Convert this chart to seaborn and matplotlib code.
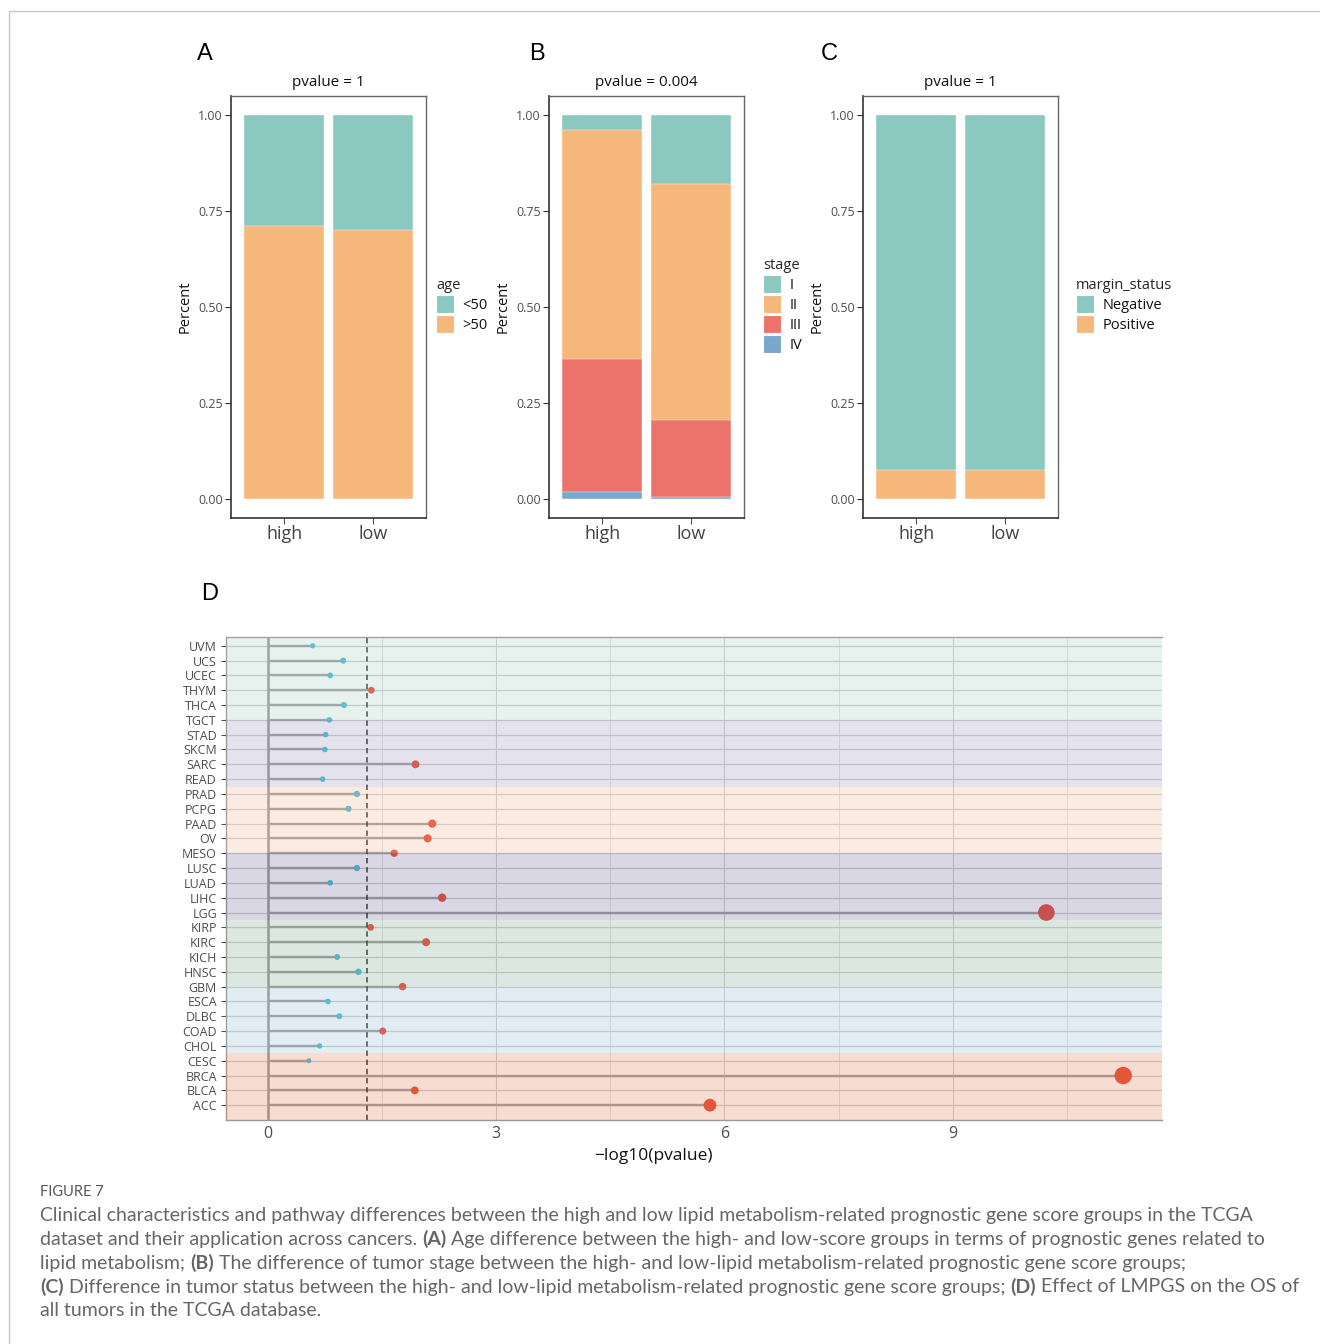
import numpy as np
import pandas as pd
import matplotlib
matplotlib.use("Agg")
import matplotlib.pyplot as plt
from matplotlib.patches import Patch
from matplotlib.lines import Line2D
import seaborn as sns

# ---------------- data ----------------
groups = ["high", "low"]

age_levels = ["<50", ">50"]
age_high = [0.289, 0.711]
age_low = [0.300, 0.700]

stage_levels = ["I", "II", "III", "IV"]
stage_high = [0.038, 0.597, 0.347, 0.018]
stage_low = [0.180, 0.614, 0.202, 0.004]

margin_levels = ["Negative", "Positive"]
margin_high = [0.924, 0.076]
margin_low = [0.924, 0.076]

pvalue_titles = ["pvalue = 1", "pvalue = 0.004", "pvalue = 1"]

cancers = ["ACC", "BLCA", "BRCA", "CESC", "CHOL", "COAD", "DLBC", "ESCA",
           "GBM", "HNSC", "KICH", "KIRC", "KIRP", "LGG", "LIHC", "LUAD",
           "LUSC", "MESO", "OV", "PAAD", "PCPG", "PRAD", "READ", "SARC",
           "SKCM", "STAD", "TGCT", "THCA", "THYM", "UCEC", "UCS", "UVM"]
neglog_p = [5.81, 1.93, 11.24, 0.54, 0.68, 1.51, 0.94, 0.79,
            1.77, 1.19, 0.91, 2.08, 1.35, 10.23, 2.29, 0.82,
            1.17, 1.66, 2.10, 2.16, 1.06, 1.17, 0.72, 1.94,
            0.75, 0.76, 0.81, 1.00, 1.36, 0.82, 0.99, 0.59]

caption_title = "FIGURE 7"
caption_lines = [
    [("Clinical characteristics and pathway differences between the high and low lipid metabolism-related prognostic gene score groups in the TCGA", False)],
    [("dataset and their application across cancers.", False), ("(A)", True),
     ("Age difference between the high- and low-score groups in terms of prognostic genes related to", False)],
    [("lipid metabolism;", False), ("(B)", True),
     ("The difference of tumor stage between the high- and low-lipid metabolism-related prognostic gene score groups;", False)],
    [("(C)", True), ("Difference in tumor status between the high- and low-lipid metabolism-related prognostic gene score groups;", False),
     ("(D)", True), ("Effect of LMPGS on the OS of", False)],
    [("all tumors in the TCGA database.", False)],
]

# ---------------- style ----------------
sns.set_style("white")
plt.rcParams["font.family"] = ["Open Sans", "DejaVu Sans"]
plt.rcParams["axes.unicode_minus"] = True

W, H = 1320, 1344
fig = plt.figure(figsize=(W / 100, H / 100), dpi=100)


def fx(px):
    return px / W


def fy(py):
    return 1 - py / H


def px_axes(left, top, right, bottom):
    return fig.add_axes([fx(left), fy(bottom), (right - left) / W, (bottom - top) / H])


teal, orange, red, blue = "#8AC8C0", "#F5B87A", "#EC736B", "#7AA7CC"
dark = "#333333"


def stacked_panel(ax, levels, high, low, colors, title, legend_title, leg_x, leg_y):
    df = pd.DataFrame({"group": np.repeat(groups, len(levels)),
                       "level": levels * 2,
                       "prop": list(high) + list(low)})
    # cumulative heights from the bottom level up; draw tallest first
    order_bottom_up = levels[::-1]
    for i, lev in enumerate(levels):
        below = order_bottom_up[: order_bottom_up.index(lev) + 1]
        cum = (df[df["level"].isin(below)].groupby("group", sort=False)["prop"].sum()
               .reindex(groups).reset_index())
        sns.barplot(data=cum, x="group", y="prop", order=groups, color=colors[i],
                    width=0.9, saturation=1, edgecolor="white", linewidth=0.3,
                    ax=ax, zorder=2 + i)
    ax.set_xlim(-0.6, 1.6)
    ax.set_ylim(-0.05, 1.05)
    ax.set_yticks([0, 0.25, 0.5, 0.75, 1.0])
    ax.set_yticklabels(["0.00", "0.25", "0.50", "0.75", "1.00"], fontsize=9, color="#4d4d4d")
    ax.tick_params(axis="x", labelsize=13, colors="#4d4d4d", length=4, width=0.8,
                   direction="out", bottom=True, pad=1)
    ax.tick_params(axis="y", length=4, width=0.8, direction="out", left=True, color=dark, pad=2)
    for lbl in ax.get_xticklabels():
        lbl.set_color("#444444")
    ax.set_xlabel("")
    ax.set_ylabel("Percent", fontsize=10.5, color="#111111", labelpad=4)
    ax.set_title(title, fontsize=11, color="#111111", pad=7)
    for side in ["left", "bottom"]:
        ax.spines[side].set_color(dark)
        ax.spines[side].set_linewidth(1.2)
    for side in ["top", "right"]:
        ax.spines[side].set_color("#666666")
        ax.spines[side].set_linewidth(1.0)
    handles = [Patch(facecolor=c, edgecolor="white", linewidth=0.8) for c in colors]
    leg = fig.legend(handles, levels, title=legend_title, loc="upper left",
                     bbox_to_anchor=(fx(leg_x), fy(leg_y)),
                     frameon=False, fontsize=10.5, title_fontsize=10.5,
                     handlelength=1.25, handleheight=1.5, handletextpad=0.55,
                     labelspacing=0.15, borderpad=0, borderaxespad=0,
                     alignment="left")
    for t in leg.get_texts():
        t.set_color("#111111")


axA = px_axes(231, 96, 426, 518)
stacked_panel(axA, age_levels, age_high, age_low, [teal, orange],
              pvalue_titles[0], "age", 436, 278)
axB = px_axes(549, 96, 744, 518)
stacked_panel(axB, stage_levels, stage_high, stage_low, [teal, orange, red, blue],
              pvalue_titles[1], "stage", 763, 258)
axC = px_axes(863, 96, 1058, 518)
stacked_panel(axC, margin_levels, margin_high, margin_low, [teal, orange],
              pvalue_titles[2], "margin_status", 1076, 278)

for letter, xpos, ypos in [("A", 205, 54), ("B", 537, 54), ("C", 829, 54), ("D", 210, 594)]:
    fig.text(fx(xpos), fy(ypos), letter, fontsize=17, ha="center", va="center",
             family=["Liberation Sans", "DejaVu Sans"], color="#000000")

# ---------------- panel D: lollipop ----------------
axD = px_axes(226, 637, 1162, 1120)
dfD = pd.DataFrame({"cancer": cancers, "value": neglog_p})
threshold = -np.log10(0.05)
dfD["signif"] = np.where(dfD["value"] > threshold, "yes", "no")
ypos = np.arange(len(cancers))

# background grid
for xv in [0, 3, 6, 9]:
    axD.axvline(xv, color="#d0d0d4", lw=0.8, zorder=0)
for xv in [1.5, 4.5, 7.5, 10.5]:
    axD.axvline(xv, color="#dadade", lw=0.6, zorder=0)
for yv in ypos:
    axD.axhline(yv, color="#cdcdd2", lw=0.9, zorder=0)

axD.axvline(0, color="#9c9c9c", lw=1.9, zorder=1)
axD.hlines(ypos, 0, dfD["value"], color="#9e9e9e", lw=1.7, zorder=2)
sns.scatterplot(data=dfD, x="value", y="cancer", hue="signif",
                palette={"yes": "#E64B35", "no": "#4DBBD5"},
                size="value", sizes=(13, 158), size_norm=(0.54, 11.24),
                linewidth=0, legend=False, ax=axD, zorder=3)
axD.axvline(threshold, color="#2a2a2a", lw=1.1, ls=(0, (3.5, 2.5)), zorder=4)

# translucent tissue-group bands drawn over the marks
bands = [(-1.0, 3.5, (223, 119, 75)), (3.5, 8.0, (139, 187, 211)),
         (8.0, 12.5, (123, 163, 139)), (12.5, 17.0, (107, 99, 147)),
         (17.0, 21.5, (243, 183, 147)), (21.5, 26.0, (151, 147, 187)),
         (26.0, 31.6, (163, 203, 191))]
for lo, hi, rgb in bands:
    axD.axhspan(lo, hi, color=np.array(rgb) / 255, alpha=0.25, lw=0, zorder=5)

axD.set_xlim(-0.55, 11.75)
axD.set_ylim(-1.0, 31.59)
axD.set_xticks([0, 3, 6, 9])
axD.set_xticklabels(["0", "3", "6", "9"])
axD.set_yticks(ypos)
axD.set_yticklabels(cancers)
axD.tick_params(axis="x", labelsize=11.5, colors="#4d4d4d", length=0, pad=4)
axD.tick_params(axis="y", labelsize=9, colors="#4d4d4d", length=3.5, width=0.8,
                left=True, pad=3)
axD.set_ylabel("")
axD.set_xlabel("\u2212log10(pvalue)", fontsize=12.5, color="#111111")
axD.xaxis.set_label_coords(0.457, -0.058)
axD.spines["right"].set_visible(False)
for side in ["top", "left", "bottom"]:
    axD.spines[side].set_color("#999999")
    axD.spines[side].set_linewidth(1.0)

# ---------------- frame and caption ----------------
fig.add_artist(Line2D([fx(9), 1], [fy(11), fy(11)], color="#c8c8c8", lw=1.0))
fig.add_artist(Line2D([fx(9), fx(9)], [fy(11), 0], color="#c8c8c8", lw=1.0))

cap_family = ["Lato", "DejaVu Sans"]
cap_color = "#666666"
cap_size = 14
fig.text(fx(40), fy(1192), caption_title, fontsize=10.5, color="#555555",
         family=cap_family, va="center")

renderer = fig.canvas.get_renderer()
probe = fig.text(0, 0, "a a", fontsize=cap_size, family=cap_family)
probe2 = fig.text(0, 0, "aa", fontsize=cap_size, family=cap_family)
space_w = (probe.get_window_extent(renderer).width
           - probe2.get_window_extent(renderer).width)
probe.remove()
probe2.remove()

for i, line in enumerate(caption_lines):
    x = 40.0
    yline = 1215 + i * 24
    for j, (txt, bold) in enumerate(line):
        t = fig.text(fx(x), fy(yline), txt, fontsize=cap_size, color=cap_color,
                     family=cap_family, va="center",
                     fontweight="bold" if bold else "normal")
        x += t.get_window_extent(renderer).width + space_w

fig.savefig("out.png", dpi=100)
